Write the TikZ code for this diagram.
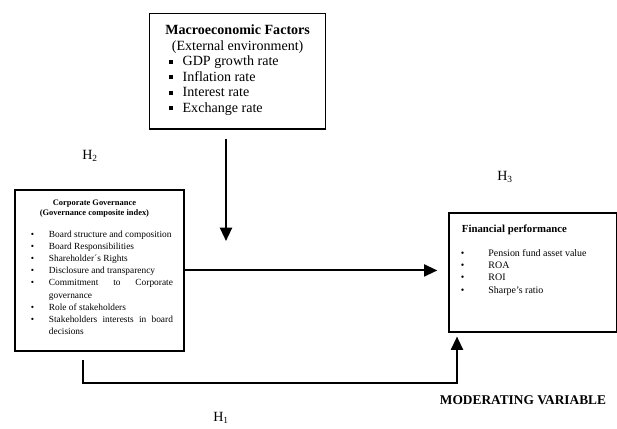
\documentclass[tikz,border=0pt]{standalone}
\usepackage{fontspec}
\setmainfont{Liberation Serif}
\usetikzlibrary{arrows.meta}

\newcommand{\sqbul}{\rule[0.28ex]{1.2mm}{1.2mm}}
\newcommand{\bul}[1][4.4mm]{\par\noindent\llap{\textbullet\hspace{#1}}}

\tikzset{
  frame/.style={draw, line width=1.6pt, inner sep=0pt, anchor=north west},
  arr/.style={line width=1.8pt, -{Triangle[length=4mm,width=3.6mm]}},
  hyp/.style={font=\fontsize{12}{14}\selectfont}
}

\begin{document}
\begin{tikzpicture}[x=0.3mm,y=-0.3mm]
\useasboundingbox (0,0) rectangle (617,428);

%\draw[step=50,gray,very thin] (0,0) grid (617,428);

% macroeconomic factors
\node[frame, line width=1.1pt] (macro) at (149,12.7) {\parbox[c][34.7mm][t]{52.8mm}{%
  \fontsize{12}{13.2}\selectfont
  \vspace*{9.9pt}
  {\centering\textbf{Macroeconomic Factors}\\
  (External environment)\par}
  \raggedright
  \hspace*{5.8mm}\makebox[4.1mm][l]{\sqbul}GDP growth rate\\
  \hspace*{5.8mm}\makebox[4.1mm][l]{\sqbul}Inflation rate\\
  \hspace*{5.8mm}\makebox[4.1mm][l]{\sqbul}Interest rate\\
  \hspace*{5.8mm}\makebox[4.1mm][l]{\sqbul}Exchange rate\par}};

% corporate governance
\node[frame] (corp) at (14,189) {\parbox[c][48.3mm][t]{50.7mm}{%
  \fontsize{7.2}{8.2}\selectfont\bfseries
  \vspace*{8.5pt}
  {\centering\rightskip=3mm plus 1fil Corporate Governance\\
  (Governance composite index)\par}
  \vspace{9pt}
  \fontsize{8}{10.3}\selectfont\mdseries
  \leftskip=10.2mm \rightskip=3.3mm \hyphenpenalty=10000 \tolerance=9999
  \bul Board structure and composition
  \bul Board Responsibilities
  \bul Shareholder´s Rights
  \bul Disclosure and transparency
  \bul Commitment to Corporate governance
  \bul Role of stakeholders
  \bul Stakeholders interests in board decisions\par}};

% financial performance
\node[frame] (fin) at (448,212) {\parbox[c][35.7mm][t]{50.4mm}{%
  \raggedright
  \vspace*{10.4pt}
  \leftskip=3.9mm
  \fontsize{9.2}{10.5}\selectfont\textbf{Financial performance}\par
  \vspace{9.5pt}
  \fontsize{8.5}{10.5}\selectfont
  \leftskip=11.1mm
  \bul[6.45mm] Pension fund asset value
  \bul[6.45mm] ROA
  \bul[6.45mm] ROI
  \bul[6.45mm] Sharpe's ratio\par}};

% labels
\node[hyp] (h2) at (90,156) {H\textsubscript{2}};
\node[hyp] (h3) at (505,177) {H\textsubscript{3}};
\node[hyp] (h1) at (221,418) {H\textsubscript{1}};
\node[font=\fontsize{11.4}{13}\selectfont\bfseries] (modvar) at (523,400) {MODERATING VARIABLE};

% arrows
\coordinate (mtip) at (226,241);
\draw[arr, shorten <=2.8mm] (macro.south -| mtip) -- (mtip);

\draw[arr, shorten >=3.2mm] (corp.east) -- (corp.east -| fin.west);

\coordinate (h1a) at (83,383);
\coordinate (h1b) at (457,383);
\draw[arr, shorten <=2.4mm, shorten >=1.1mm] (corp.south -| h1a) -- (h1a) -- (h1b) -- (fin.south -| h1b);

\end{tikzpicture}
\end{document}
